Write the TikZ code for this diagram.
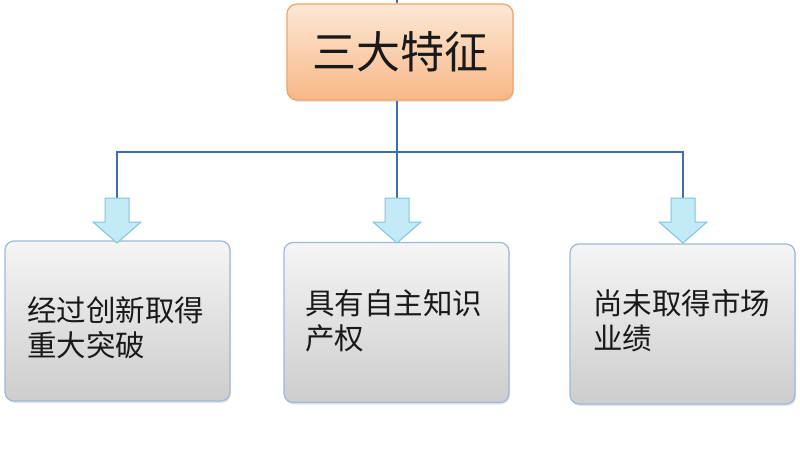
\documentclass[tikz,border=0pt]{standalone}
\usepackage{fontspec}
\setmainfont{Noto Sans CJK SC}
\usetikzlibrary{shadows}
\definecolor{linkblue}{HTML}{3F6DB0}
\definecolor{orangetop}{HTML}{FDE8D6}
\definecolor{orangebot}{HTML}{F8B787}
\definecolor{orangeedge}{HTML}{F0A468}
\definecolor{graytop}{HTML}{F5F5F5}
\definecolor{graybot}{HTML}{CDCDCD}
\definecolor{grayedge}{HTML}{9DB9DA}
\definecolor{arrowfill}{HTML}{C4EAF7}
\definecolor{arrowedge}{HTML}{7CC6E0}
\tikzset{
  topbox/.style={draw=orangeedge, line width=1.2pt, rounded corners=10pt,
    top color=orangetop, bottom color=orangebot, minimum width=226pt, minimum height=96pt,
    inner sep=0pt, font=\fontsize{44}{48}\selectfont, text=black!90,
    drop shadow={opacity=0.2, shadow xshift=1pt, shadow yshift=-2pt}},
  subbox/.style={draw=grayedge, line width=1.2pt, rounded corners=9pt,
    top color=graytop, bottom color=graybot, minimum width=225pt, minimum height=160pt,
    inner sep=0pt, drop shadow={opacity=0.2, shadow xshift=1pt, shadow yshift=-2pt}},
  subtext/.style={anchor=north west, align=left, inner sep=0pt,
    font=\fontsize{29.5}{35}\selectfont, text=black!90},
  link/.style={draw=linkblue, line width=2.8pt},
  blockarrow/.style={fill=arrowfill, draw=arrowedge, line width=1pt, line join=miter}
}
\newcommand{\downarrowat}[1]{%
  \path[blockarrow] ([xshift=-12pt]#1) -- ++(0,24) -- ++(-12,0) -- ++(24,21) -- ++(24,-21)
    -- ++(-12,0) -- ++(0,-24) -- cycle;}
\begin{document}
\begin{tikzpicture}[x=1pt,y=-1pt]
\useasboundingbox (0,0) rectangle (800,460);
% boxes
\node[topbox] (top) at (400,52) {三大特征};
\node[subbox] (b1) at (117.5,321) {};
\node[subbox] (b2) at (396.5,322.5) {};
\node[subbox] (b3) at (682.5,324) {};
\node[subtext] (t1) at (27,296) {经过创新取得\\重大突破};
\node[subtext] (t2) at (305,289) {具有自主知识\\产权};
\node[subtext] (t3) at (593,289) {尚未取得市场\\业绩};
% coordinates
\coordinate (up) at (397,0);
\coordinate (hub) at (397,152);
\coordinate (a1) at (117,198);
\coordinate (a2) at (397,198);
\coordinate (a3) at (683,198);
% connectors
\draw[link] (top.north -| up) -- (up);
\draw[link] (top.south -| up) -- (a2);
\draw[link] (a1) |- (hub) -| (a3);
% block arrows
\downarrowat{a1}
\downarrowat{a2}
\downarrowat{a3}
\end{tikzpicture}
\end{document}
